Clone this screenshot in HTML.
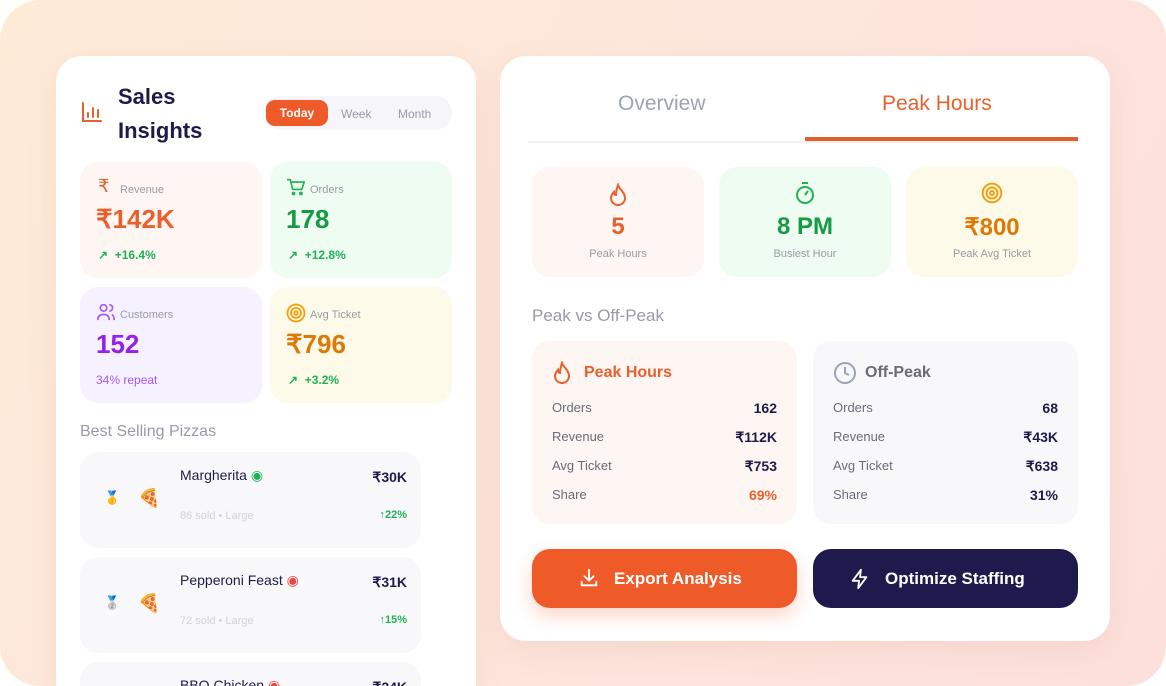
<!DOCTYPE html>
<html style="width:1166px;height:686px;overflow:hidden"><head><meta charset="utf-8"><style>
*{box-sizing:border-box;margin:0;padding:0}
body{width:1166px;height:686px;background:#fff;font-family:"Liberation Sans",sans-serif;position:relative;overflow:hidden}
.bg{position:absolute;left:0;top:0;width:1166px;height:686px;border-radius:40px;background:linear-gradient(120deg,#fdebd8 0%,#fde5dc 60%,#fde0dc 100%)}
.a{position:absolute}
.panel{position:absolute;background:#fff;border-radius:26px;box-shadow:0 10px 30px rgba(200,120,100,.12)}
.card{position:absolute;border-radius:18px}
.lbl{font-size:11px;color:#9a9aa8}
.big{font-size:26px;font-weight:bold}
.g{color:#1fb155;font-size:12px;font-weight:bold}
.row{position:absolute;left:20px;right:20px;font-size:13px;color:#6b6b7a}
.row b{position:absolute;right:0;color:#1e1b4b;font-size:14px}
</style></head><body>
<div class="bg"></div>

<!-- Left panel -->
<div class="panel" style="left:56px;top:56px;width:420px;height:630px;border-radius:26px 26px 0 0">
  <svg class="a" style="left:24px;top:44px" width="24" height="24" viewBox="0 0 24 24" fill="none" stroke="#e8602c" stroke-width="2" stroke-linecap="round"><path d="M3 3v18h18M8 17v-4M13 17V8M18 17v-7"/></svg>
  <div class="a" style="left:62px;top:24px;font-size:22px;font-weight:bold;color:#1e1b4b;line-height:34px">Sales<br>Insights</div>
  <div class="a" style="left:208px;top:40px;width:188px;height:34px;border-radius:17px;background:#f6f6fa"></div>
  <div class="a" style="left:210px;top:44px;width:62px;height:26px;border-radius:9px;background:#ee5a28;color:#fff;font-size:12px;font-weight:bold;text-align:center;line-height:26px">Today</div>
  <div class="a" style="left:285px;top:51px;font-size:12px;color:#9a9aa8">Week</div>
  <div class="a" style="left:342px;top:51px;font-size:12px;color:#9a9aa8">Month</div>

  <div class="card" style="left:24px;top:106px;width:182px;height:116px;background:#fdf6f2">
    <div class="a" style="left:18px;top:14px;font-size:18px;color:#e8602c">₹</div>
    <div class="a lbl" style="left:40px;top:22px">Revenue</div>
    <div class="a big" style="left:16px;top:42px;color:#e8602c">₹142K</div>
    <div class="a g" style="left:18px;top:86px">↗ &nbsp;+16.4%</div>
  </div>
  <div class="card" style="left:214px;top:106px;width:182px;height:116px;background:#eefcf2">
    <svg class="a" style="left:16px;top:16px" width="20" height="18" viewBox="0 0 24 22" fill="none" stroke="#1fb155" stroke-width="2"><path d="M1 2h4l3 12h11l3-9H6"/><circle cx="9" cy="19" r="1.3"/><circle cx="18" cy="19" r="1.3"/></svg>
    <div class="a lbl" style="left:40px;top:22px">Orders</div>
    <div class="a big" style="left:16px;top:42px;color:#169a44">178</div>
    <div class="a g" style="left:18px;top:86px">↗ &nbsp;+12.8%</div>
  </div>
  <div class="card" style="left:24px;top:231px;width:182px;height:116px;background:#f5f1fe">
    <svg class="a" style="left:16px;top:16px" width="20" height="18" viewBox="0 0 24 22" fill="none" stroke="#a855f7" stroke-width="2"><circle cx="9" cy="6" r="4"/><path d="M2 21c0-5 3-7 7-7s7 2 7 7M16 2a4 4 0 010 8M19 14c2 1 3 3 3 7"/></svg>
    <div class="a lbl" style="left:40px;top:22px">Customers</div>
    <div class="a big" style="left:16px;top:42px;color:#9321e8">152</div>
    <div class="a" style="left:16px;top:86px;font-size:12px;color:#a855f7">34% repeat</div>
  </div>
  <div class="card" style="left:214px;top:231px;width:182px;height:116px;background:#fefaea">
    <svg class="a" style="left:16px;top:16px" width="20" height="20" viewBox="0 0 20 20" fill="none" stroke="#f59e0b" stroke-width="1.8"><circle cx="10" cy="10" r="8.5"/><circle cx="10" cy="10" r="5"/><circle cx="10" cy="10" r="1.8"/></svg>
    <div class="a lbl" style="left:40px;top:22px">Avg Ticket</div>
    <div class="a big" style="left:16px;top:42px;color:#dd7a06">₹796</div>
    <div class="a g" style="left:18px;top:86px">↗ &nbsp;+3.2%</div>
  </div>

  <div class="a" style="left:24px;top:367px;font-size:16px;color:#9a9aa8">Best Selling Pizzas</div>
  <div class="card" style="left:24px;top:396px;width:341px;height:96px;background:#f8f8fb">
    <div class="a" style="left:24px;top:38px;font-size:13px">🥇</div>
    <div class="a" style="left:58px;top:36px;font-size:18px">🍕</div>
    <div class="a" style="left:100px;top:15px;font-size:14px;color:#1e1b4b">Margherita <span style="color:#1fb155">◉</span></div>
    <div class="a" style="left:100px;top:58px;font-size:11px;color:#d2d2da">86 sold • Large</div>
    <div class="a" style="right:14px;top:17px;font-size:14px;font-weight:bold;color:#1e1b4b">₹30K</div>
    <div class="a" style="right:14px;top:57px;font-size:11px;font-weight:bold;color:#1fb155">↑22%</div>
  </div>
  <div class="card" style="left:24px;top:501px;width:341px;height:96px;background:#f8f8fb">
    <div class="a" style="left:24px;top:38px;font-size:13px">🥈</div>
    <div class="a" style="left:58px;top:36px;font-size:18px">🍕</div>
    <div class="a" style="left:100px;top:15px;font-size:14px;color:#1e1b4b">Pepperoni Feast <span style="color:#ef4444">◉</span></div>
    <div class="a" style="left:100px;top:58px;font-size:11px;color:#d2d2da">72 sold • Large</div>
    <div class="a" style="right:14px;top:17px;font-size:14px;font-weight:bold;color:#1e1b4b">₹31K</div>
    <div class="a" style="right:14px;top:57px;font-size:11px;font-weight:bold;color:#1fb155">↑15%</div>
  </div>
  <div class="card" style="left:24px;top:606px;width:341px;height:24px;background:#f8f8fb;border-radius:18px 18px 0 0;overflow:hidden">
    <div class="a" style="left:100px;top:15px;font-size:14px;color:#1e1b4b">BBQ Chicken <span style="color:#ef4444">◉</span></div>
    <div class="a" style="right:14px;top:17px;font-size:14px;font-weight:bold;color:#1e1b4b">₹24K</div>
  </div>
</div>

<!-- Right panel -->
<div class="panel" style="left:500px;top:56px;width:610px;height:585px">
  <div class="a" style="left:118px;top:36px;font-size:21px;color:#9ca3b4">Overview</div>
  <div class="a" style="left:382px;top:36px;font-size:21px;color:#e8602c">Peak Hours</div>
  <div class="a" style="left:28px;top:85px;width:550px;height:2px;background:#f1f1f4"></div>
  <div class="a" style="left:305px;top:81px;width:273px;height:4px;background:#e0602d"></div>

  <div class="card" style="left:32px;top:111px;width:172px;height:110px;background:#fdf6f2;text-align:center">
    <svg class="a" style="left:76px;top:16px" width="20" height="24" viewBox="0 0 20 24" fill="none" stroke="#e8602c" stroke-width="2"><path d="M10 2c1 4 7 7 7 13a7 7 0 01-14 0c0-3 2-5 3-6 0 2 1 3 2 3 0-4 1-7 2-10z"/></svg>
    <div class="a big" style="left:0;right:0;top:46px;font-size:24px;color:#e8602c">5</div>
    <div class="a lbl" style="left:0;right:0;top:81px">Peak Hours</div>
  </div>
  <div class="card" style="left:219px;top:111px;width:172px;height:110px;background:#eefcf2;text-align:center">
    <svg class="a" style="left:75px;top:14px" width="22" height="24" viewBox="0 0 22 24" fill="none" stroke="#1fb155" stroke-width="2"><circle cx="11" cy="14" r="8"/><path d="M8 2h6M11 14l3-4"/></svg>
    <div class="a big" style="left:0;right:0;top:46px;font-size:24px;color:#169a44">8 PM</div>
    <div class="a lbl" style="left:0;right:0;top:81px">Busiest Hour</div>
  </div>
  <div class="card" style="left:406px;top:111px;width:172px;height:110px;background:#fefaea;text-align:center">
    <svg class="a" style="left:75px;top:15px" width="22" height="22" viewBox="0 0 20 20" fill="none" stroke="#f59e0b" stroke-width="1.8"><circle cx="10" cy="10" r="8.5"/><circle cx="10" cy="10" r="5"/><circle cx="10" cy="10" r="1.8"/></svg>
    <div class="a big" style="left:0;right:0;top:46px;font-size:24px;color:#dd7a06">₹800</div>
    <div class="a lbl" style="left:0;right:0;top:81px">Peak Avg Ticket</div>
  </div>

  <div class="a" style="left:32px;top:250px;font-size:17px;color:#9a9aa8">Peak vs Off-Peak</div>

  <div class="card" style="left:32px;top:285px;width:265px;height:183px;background:#fdf6f2">
    <svg class="a" style="left:20px;top:20px" width="20" height="24" viewBox="0 0 20 24" fill="none" stroke="#e8602c" stroke-width="2"><path d="M10 2c1 4 7 7 7 13a7 7 0 01-14 0c0-3 2-5 3-6 0 2 1 3 2 3 0-4 1-7 2-10z"/></svg>
    <div class="a" style="left:52px;top:23px;font-size:16px;font-weight:bold;color:#e8602c">Peak Hours</div>
    <div class="row" style="top:59px">Orders<b>162</b></div>
    <div class="row" style="top:88px">Revenue<b>₹112K</b></div>
    <div class="row" style="top:117px">Avg Ticket<b>₹753</b></div>
    <div class="row" style="top:146px">Share<b style="color:#e8602c">69%</b></div>
  </div>
  <div class="card" style="left:313px;top:285px;width:265px;height:183px;background:#f8f8fb">
    <svg class="a" style="left:20px;top:20px" width="24" height="24" viewBox="0 0 24 24" fill="none" stroke="#9ca3b4" stroke-width="2"><circle cx="12" cy="12" r="10"/><path d="M12 6v6l4 2"/></svg>
    <div class="a" style="left:52px;top:23px;font-size:16px;font-weight:bold;color:#6b6b7a">Off-Peak</div>
    <div class="row" style="top:59px">Orders<b>68</b></div>
    <div class="row" style="top:88px">Revenue<b>₹43K</b></div>
    <div class="row" style="top:117px">Avg Ticket<b>₹638</b></div>
    <div class="row" style="top:146px">Share<b>31%</b></div>
  </div>

  <div class="a" style="left:32px;top:493px;width:265px;height:59px;border-radius:18px;background:#ee5a28;box-shadow:0 8px 18px rgba(238,90,40,.25)">
    <svg class="a" style="left:46px;top:18px" width="22" height="22" viewBox="0 0 24 24" fill="none" stroke="#fff" stroke-width="2" stroke-linecap="round"><path d="M12 3v12M7 10l5 5 5-5M4 16v4h16v-4"/></svg>
    <div class="a" style="left:82px;top:20px;font-size:17px;font-weight:bold;color:#fff">Export Analysis</div>
  </div>
  <div class="a" style="left:313px;top:493px;width:265px;height:59px;border-radius:18px;background:#1f1a4e">
    <svg class="a" style="left:36px;top:18px" width="22" height="24" viewBox="0 0 24 24" fill="none" stroke="#fff" stroke-width="2" stroke-linejoin="round"><path d="M13 2L4 14h7l-1 8 9-12h-7l1-8z"/></svg>
    <div class="a" style="left:72px;top:20px;font-size:17px;font-weight:bold;color:#fff">Optimize Staffing</div>
  </div>
</div>
</body></html>
